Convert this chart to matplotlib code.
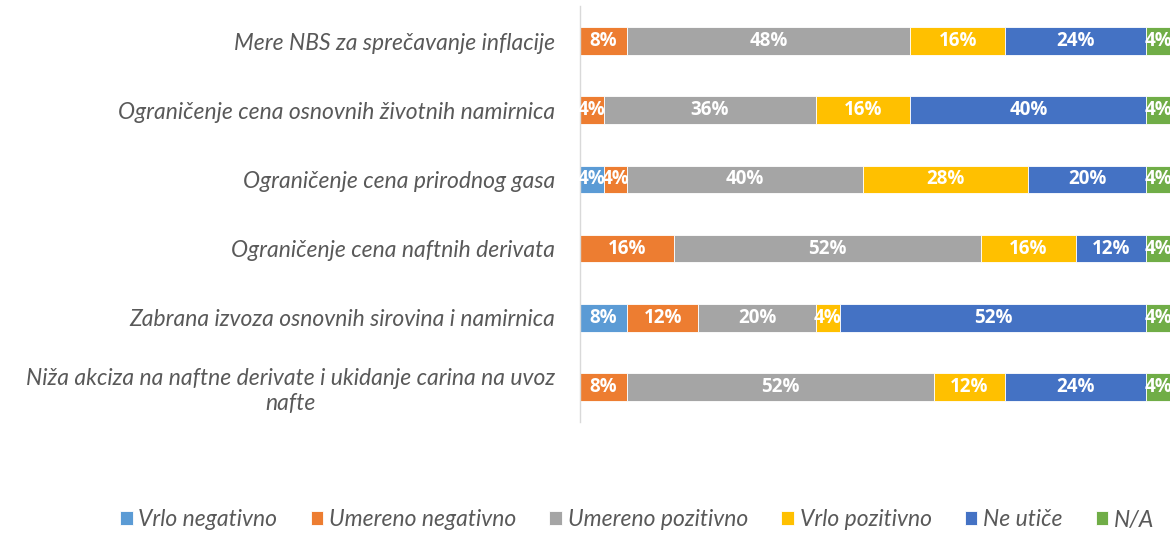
import matplotlib
matplotlib.use("Agg")
import matplotlib.pyplot as plt
import numpy as np

categories = [
    "Mere NBS za sprečavanje inflacije",
    "Ograničenje cena osnovnih životnih namirnica",
    "Ograničenje cena prirodnog gasa",
    "Ograničenje cena naftnih derivata",
    "Zabrana izvoza osnovnih sirovina i namirnica",
    "Niža akciza na naftne derivate i ukidanje carina na uvoz\nnafte",
]
series_names = ["Vrlo negativno", "Umereno negativno", "Umereno pozitivno",
                "Vrlo pozitivno", "Ne utiče", "N/A"]
vrlo_negativno = [0, 0, 4, 0, 8, 0]
umereno_negativno = [8, 4, 4, 16, 12, 8]
umereno_pozitivno = [48, 36, 40, 52, 20, 52]
vrlo_pozitivno = [16, 16, 28, 16, 4, 12]
ne_utice = [24, 40, 20, 12, 52, 24]
na = [4, 4, 4, 4, 4, 4]
series = [vrlo_negativno, umereno_negativno, umereno_pozitivno, vrlo_pozitivno, ne_utice, na]
colors = ["#5B9BD5", "#ED7D31", "#A5A5A5", "#FFC000", "#4472C4", "#70AD47"]

FONT = ["Lato", "DejaVu Sans"]
plt.rcParams["font.family"] = FONT

fig = plt.figure(figsize=(11.75, 5.33), dpi=100)
ax = fig.add_axes([580 / 1175, 1 - 421.6 / 533, 590 / 1175, (421.6 - 6.4) / 533])

y = np.arange(len(categories))
left = np.zeros(len(categories))
handles = []
for name, vals, c in zip(series_names, series, colors):
    vals = np.array(vals, dtype=float)
    b = ax.barh(y, vals, left=left, height=0.4, color=c, edgecolor="white", linewidth=0.6, label=name)
    handles.append(b)
    for yi, (l, v) in enumerate(zip(left, vals)):
        if v > 0:
            ax.text(l + v / 2, yi, f"{int(v)}%", ha="center", va="center",
                    color="white", fontsize=13.5, fontweight="bold",
                    family=["Open Sans", "DejaVu Sans"])
    left += vals

ax.set_xlim(0, 100)
ax.set_ylim(len(categories) - 0.5, -0.5)
ax.set_yticks(y)
ax.set_yticklabels(categories, fontsize=16.5, style="italic", color="#595959",
                   multialignment="center", linespacing=1.25)
ax.tick_params(axis="y", length=0, pad=18)
ax.set_xticks([])
for s in ["top", "right", "bottom"]:
    ax.spines[s].set_visible(False)
ax.spines["left"].set_color("#D9D9D9")
ax.spines["left"].set_linewidth(1.0)

leg = fig.legend(handles=handles, labels=series_names, loc="center right",
                 bbox_to_anchor=(1175 / 1175, 1 - 520 / 533), ncol=6, frameon=False,
                 prop={"family": FONT, "style": "italic", "size": 16.5},
                 handlelength=0.55, handleheight=0.55, handletextpad=0.25, columnspacing=1.45,
                 labelcolor="#595959")

fig.savefig("out.png", dpi=100)
